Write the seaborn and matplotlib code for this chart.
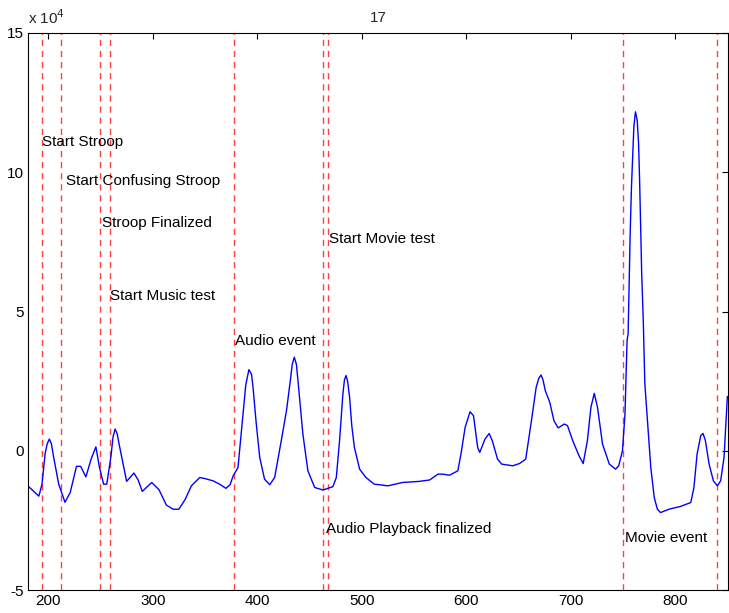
import numpy as np
import pandas as pd
import matplotlib
matplotlib.use('Agg')
import matplotlib.pyplot as plt
import seaborn as sns

# signal trace (x = sample, y = value)
sig_x = [181, 191, 194, 197, 199, 201, 203, 205, 210, 216, 221, 227, 231, 236, 241, 245.6, 249,
         253, 256, 260, 262, 264, 266, 268, 275, 282, 286, 290, 299, 306, 313, 319.5, 325, 331,
         337, 345, 350, 357.7, 364, 370, 374, 377, 381.6, 386.4, 389, 392, 394.5, 396, 399,
         402.4, 407, 412, 416.7, 423, 428, 431.7, 433.5, 435.5, 437.5, 439, 441, 443.7, 448.5,
         455, 463, 472.4, 475.7, 478.8, 482, 483.5, 485, 486.5, 488.4, 490.5, 493, 498, 504,
         512, 517, 525, 539, 555, 565, 573, 577.6, 584, 592, 595, 599, 603.7, 607, 611, 613,
         618, 622, 625, 630, 634, 644.5, 651, 657, 662, 667, 669.5, 671.6, 673.5, 675.7, 680,
         684, 688, 694, 697, 702, 708, 712, 716, 719.4, 722.6, 725.7, 730.5, 737, 743, 746,
         749.6, 752, 754, 755, 756, 757, 758.2, 759.5, 760.5, 762, 763.7, 765, 766, 767, 768,
         769.5, 770, 771, 773.5, 776.7, 780, 783, 786, 794, 805, 815, 818, 821, 824.5, 826.7,
         829, 832.5, 836.6, 840.4, 843.6, 846.8, 850]
sig_y = [-12800, -16300, -12000, -1000, 2500, 4200, 2500, -2000, -12000, -18500, -15000, -5600,
         -5600, -9400, -3000, 1400, -6000, -12000, -12000, -2000, 5000, 7800, 6000, 2000,
         -11000, -8000, -10500, -14600, -11400, -14000, -19500, -21000, -21000, -17500, -12600,
         -9600, -10000, -10800, -12000, -13500, -12200, -9000, -6000, 13200, 23500, 29100,
         27500, 22800, 10000, -2400, -10200, -12200, -9600, 3600, 14400, 25200, 31000, 33600,
         31000, 25200, 17000, 6000, -7200, -13200, -14100, -12900, -9600, 3600, 20400, 25500,
         27000, 25000, 19200, 9000, 1200, -6600, -9600, -12000, -12200, -12600, -11400, -11000,
         -10500, -8400, -8400, -8800, -7200, -1200, 8400, 14000, 12600, 1200, -600, 4200, 6200,
         3600, -3000, -4800, -5400, -4600, -3000, 9600, 22800, 26000, 27200, 25500, 21600,
         17400, 10800, 8200, 9600, 9000, 3600, -1800, -4600, 3600, 15600, 20600, 15600, 2400,
         -4800, -6600, -5400, 0, 13200, 39600, 42000, 60500, 78500, 94700, 107300, 116300,
         121700, 118700, 110300, 97100, 80300, 63600, 46800, 39600, 24000, 10800, -6000,
         -16800, -21000, -22200, -21000, -20000, -18600, -13200, -1200, 5400, 6200, 3600, -4800,
         -10800, -12600, -10800, -2400, 19500]

# event markers
event_x = [194, 212.4, 249.8, 259, 377.3, 463.4, 468.2, 750.2, 840.2]
label_text = ['Start Stroop', 'Start Confusing Stroop', 'Stroop Finalized', 'Start Music test',
              'Audio event', 'Start Movie test', 'Audio Playback finalized', 'Movie event']
label_x = [194.3, 216.5, 251.5, 259.5, 378.8, 469, 466, 752]
label_y = [110900, 96800, 81800, 55400, 39300, 76000, -28000, -31500]

df = pd.DataFrame({'x': sig_x, 'y': sig_y})

sns.set_style('white')
plt.rcParams['font.family'] = ['Liberation Sans', 'DejaVu Sans']

fig = plt.figure(figsize=(7.29, 6.13), dpi=100)
ax = fig.add_axes([28 / 729, 1 - 590 / 613, 700 / 729, 557 / 613])

for ex in event_x:
    ax.axvline(ex, color='#ff0000', linestyle=(0, (4.5, 3.5)), linewidth=1, alpha=0.75, zorder=1)

sns.lineplot(data=df, x='x', y='y', color='#0000ff', linewidth=1, ax=ax, zorder=2)

for t, tx, ty in zip(label_text, label_x, label_y):
    ax.text(tx, ty, t, ha='left', va='center', fontsize=11, color='black')

ax.set_xlim(180.6, 850.6)
ax.set_ylim(-50000, 150000)
ax.set_xticks([200, 300, 400, 500, 600, 700, 800])
ax.set_yticks([-50000, 0, 50000, 100000, 150000])
ax.set_yticklabels(['-5', '0', '5', '10', '15'])
ax.set_xlabel('')
ax.set_ylabel('')
ax.set_title('17', fontsize=11, pad=8)
ax.tick_params(direction='in', length=4, width=0.8, top=True, right=True, labelsize=11,
               colors='black', pad=3)
for s in ax.spines.values():
    s.set_color('black')
    s.set_linewidth(0.8)
    s.set_visible(True)

ax.text(0, 1.01, r'x 10$^4$', transform=ax.transAxes, ha='left', va='bottom', fontsize=11)

fig.savefig('out.png', dpi=100)
